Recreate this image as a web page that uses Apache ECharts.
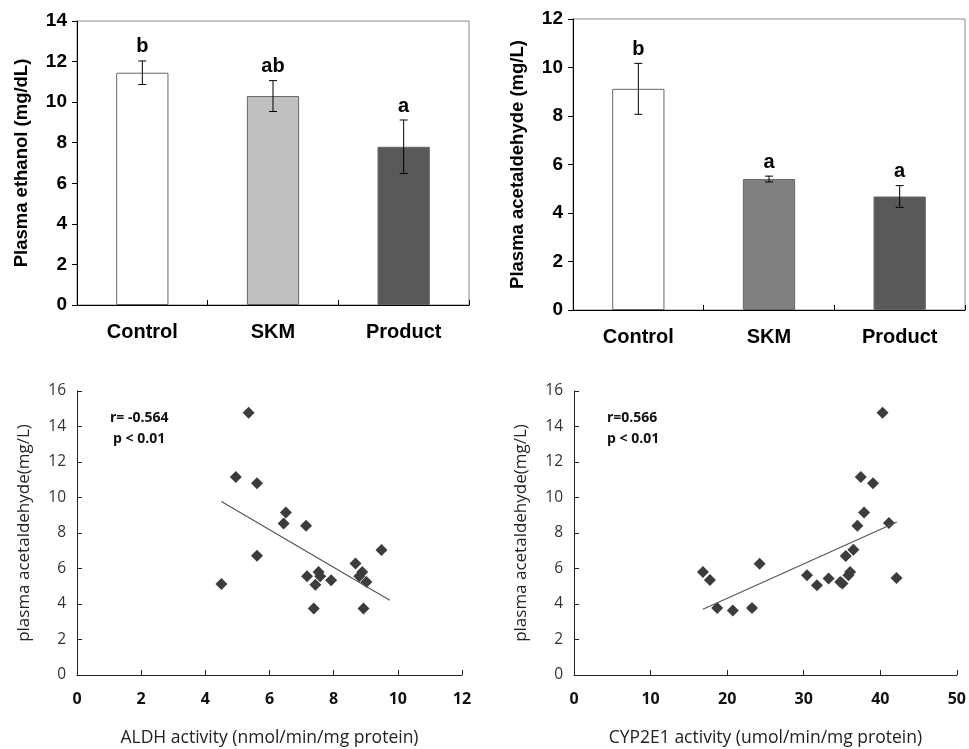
<!DOCTYPE html>
<html>
<head>
<meta charset="utf-8">
<script src="https://cdn.jsdelivr.net/npm/echarts@6/dist/echarts.min.js"></script>
<style>
  html, body { margin: 0; padding: 0; background: #fff; }
  #container { width: 969px; height: 749px; }
</style>
</head>
<body>
<div id="container"></div>
<script>
const chartIns = echarts.init(document.getElementById('container'), undefined, { renderer: 'canvas' });

// bar charts
const groups = ['Control', 'SKM', 'Product'];
const ethanolMean = [11.45, 10.3, 7.8];
const ethanolErr = [0.58, 0.76, 1.32];
const ethanolSig = ['b', 'ab', 'a'];
const acetMean = [9.12, 5.4, 4.68];
const acetErr = [1.05, 0.12, 0.45];
const acetSig = ['b', 'a', 'a'];
const ethanolColors = ['#ffffff', '#c0c0c0', '#595959'];
const acetColors = ['#ffffff', '#808080', '#595959'];

// scatter: ALDH activity vs plasma acetaldehyde
const aldhX = [5.35, 4.95, 5.61, 6.51, 6.44, 7.14, 9.49, 5.61, 8.68, 4.50,
  7.17, 7.53, 7.58, 7.43, 7.92, 8.89, 8.80, 9.02, 7.38, 8.93];
const aldhY = [14.78, 11.15, 10.80, 9.15, 8.53, 8.41, 7.04, 6.72, 6.28, 5.13,
  5.56, 5.80, 5.56, 5.09, 5.34, 5.80, 5.56, 5.24, 3.74, 3.74];
const aldhTrend = [[4.5, 9.78], [9.75, 4.21]];

// scatter: CYP2E1 activity vs plasma acetaldehyde
const cypX = [40.3, 37.45, 39.05, 37.88, 37.01, 41.13, 36.49, 35.49, 24.24, 16.84,
  17.75, 30.43, 33.25, 31.73, 34.77, 35.06, 36.06, 35.84, 42.12, 18.7, 20.74, 23.25];
const cypY = [14.78, 11.15, 10.80, 9.15, 8.41, 8.56, 7.06, 6.70, 6.27, 5.80,
  5.35, 5.62, 5.43, 5.05, 5.24, 5.15, 5.80, 5.62, 5.46, 3.77, 3.64, 3.77];
const cypTrend = [[16.84, 3.70], [42.16, 8.62]];

const topFont = 'Liberation Sans';
const botFont = 'Open Sans';

function barYAxis(gi, max, name, gap) {
  return {
    type: 'value', gridIndex: gi, min: 0, max: max, interval: 2,
    name: name, nameLocation: 'middle', nameGap: gap,
    nameTextStyle: { fontFamily: topFont, fontWeight: 'bold', fontSize: 18.5, color: '#000' },
    axisLine: { show: true, lineStyle: { color: '#000', width: 1 } },
    axisTick: { show: true, length: 5, lineStyle: { color: '#000' } },
    axisLabel: { fontFamily: topFont, fontWeight: 'bold', fontSize: 19, color: '#000', margin: 10 },
    splitLine: { show: false }
  };
}

function barXAxis(gi) {
  return {
    type: 'category', gridIndex: gi, data: groups,
    axisLine: { lineStyle: { color: '#000', width: 1 } },
    axisTick: { show: true, inside: true, length: 5, lineStyle: { color: '#000' } },
    axisLabel: { fontFamily: topFont, fontWeight: 'bold', fontSize: 20, color: '#000', margin: 17 }
  };
}

function barSeries(gi, means, colors) {
  return {
    type: 'bar', xAxisIndex: gi, yAxisIndex: gi, barWidth: '40%',
    data: means.map((v, i) => ({
      value: v,
      itemStyle: { color: colors[i], borderColor: '#666', borderWidth: 1 }
    }))
  };
}

function errorSeries(gi, means, errs, sigs) {
  return {
    type: 'custom', xAxisIndex: gi, yAxisIndex: gi, z: 10,
    data: means.map((m, i) => [i, m, errs[i]]),
    renderItem: function (params, api) {
      const x = api.value(0), m = api.value(1), e = api.value(2);
      const top = api.coord([x, m + e]);
      const bot = api.coord([x, m - e]);
      const cap = 4;
      const st = { stroke: '#000', lineWidth: 1 };
      return {
        type: 'group',
        children: [
          { type: 'line', shape: { x1: top[0], y1: top[1], x2: bot[0], y2: bot[1] }, style: st },
          { type: 'line', shape: { x1: top[0] - cap, y1: top[1], x2: top[0] + cap, y2: top[1] }, style: st },
          { type: 'line', shape: { x1: bot[0] - cap, y1: bot[1], x2: bot[0] + cap, y2: bot[1] }, style: st },
          {
            type: 'text',
            style: {
              text: sigs[params.dataIndex], x: top[0], y: top[1] - 4,
              textAlign: 'center', textVerticalAlign: 'bottom',
              font: 'bold 20px ' + topFont, fill: '#000'
            }
          }
        ]
      };
    }
  };
}

function scatterXAxis(gi, max, interval, name) {
  return {
    type: 'value', gridIndex: gi, min: 0, max: max, interval: interval,
    name: name, nameLocation: 'middle', nameGap: 54,
    nameTextStyle: { fontFamily: botFont, fontSize: 17.5, color: '#222' },
    axisLine: { lineStyle: { color: '#222', width: 1 } },
    axisTick: { show: true, inside: true, length: 5, lineStyle: { color: '#222' } },
    axisLabel: { fontFamily: botFont, fontWeight: 'bold', fontSize: 16, color: '#111', margin: 16 },
    splitLine: { show: false }
  };
}

function scatterYAxis(gi) {
  return {
    type: 'value', gridIndex: gi, min: 0, max: 16, interval: 2,
    name: 'plasma acetaldehyde(mg/L)', nameLocation: 'middle', nameGap: 44,
    nameTextStyle: { fontFamily: botFont, fontSize: 17, color: '#222' },
    axisLine: { show: true, lineStyle: { color: '#222', width: 1 } },
    axisTick: { show: true, inside: true, length: 5, lineStyle: { color: '#222' } },
    axisLabel: { fontFamily: botFont, fontSize: 15.5, color: '#333', margin: 11 },
    splitLine: { show: false }
  };
}

function scatterSeries(gi, xs, ys) {
  return {
    type: 'scatter', xAxisIndex: gi, yAxisIndex: gi,
    symbol: 'diamond', symbolSize: 12,
    itemStyle: { color: '#3c3c3c', opacity: 1 },
    data: xs.map((x, i) => [x, ys[i]])
  };
}

function trendSeries(gi, pts) {
  return {
    type: 'line', xAxisIndex: gi, yAxisIndex: gi,
    symbol: 'none', silent: true,
    lineStyle: { color: '#555', width: 1.2 },
    data: pts
  };
}

const option = {
  animation: false,
  backgroundColor: '#fff',
  grid: [
    { left: 77, top: 21, width: 392, height: 284, show: true, borderColor: '#888', borderWidth: 1 },
    { left: 573, top: 19, width: 392, height: 291, show: true, borderColor: '#888', borderWidth: 1 },
    { left: 77, top: 391, width: 385, height: 284 },
    { left: 574, top: 391, width: 385, height: 284 }
  ],
  xAxis: [
    barXAxis(0),
    barXAxis(1),
    scatterXAxis(2, 12, 2, 'ALDH activity (nmol/min/mg protein)'),
    scatterXAxis(3, 50, 10, 'CYP2E1 activity (umol/min/mg protein)')
  ],
  yAxis: [
    barYAxis(0, 14, 'Plasma ethanol (mg/dL)', 46),
    barYAxis(1, 12, 'Plasma acetaldehyde (mg/L)', 46),
    scatterYAxis(2),
    scatterYAxis(3)
  ],
  graphic: [
    { type: 'text', left: 110, top: 411, style: { text: 'r= -0.564', font: 'bold 14px ' + botFont, fill: '#111' } },
    { type: 'text', left: 113, top: 432, style: { text: 'p < 0.01', font: 'bold 14px ' + botFont, fill: '#111' } },
    { type: 'text', left: 607, top: 411, style: { text: 'r=0.566', font: 'bold 14px ' + botFont, fill: '#111' } },
    { type: 'text', left: 607, top: 432, style: { text: 'p < 0.01', font: 'bold 14px ' + botFont, fill: '#111' } }
  ],
  series: [
    barSeries(0, ethanolMean, ethanolColors),
    errorSeries(0, ethanolMean, ethanolErr, ethanolSig),
    barSeries(1, acetMean, acetColors),
    errorSeries(1, acetMean, acetErr, acetSig),
    trendSeries(2, aldhTrend),
    scatterSeries(2, aldhX, aldhY),
    trendSeries(3, cypTrend),
    scatterSeries(3, cypX, cypY)
  ]
};

chartIns.setOption(option);
</script>
</body>
</html>
